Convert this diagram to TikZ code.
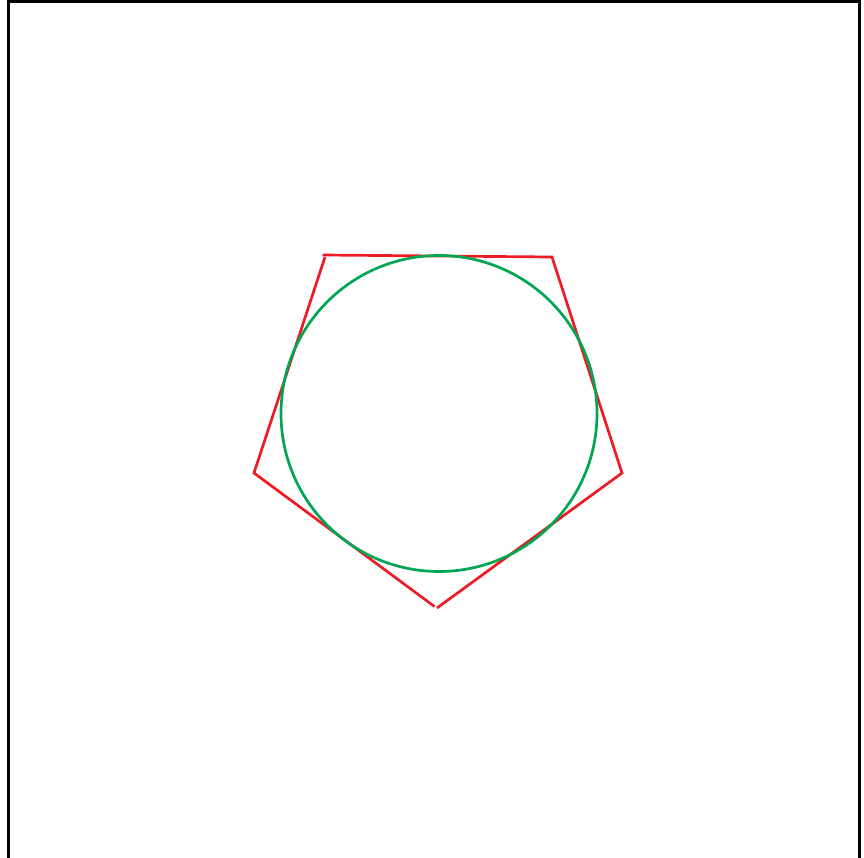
\documentclass[tikz,border=0pt]{standalone}
\definecolor{pred}{RGB}{237,28,36}
\definecolor{cgreen}{RGB}{0,166,81}
\begin{document}
\begin{tikzpicture}[x=1pt,y=-1pt,
  frame/.style={draw=black,line width=3.0pt},
  pent/.style={draw=pred,line width=2.7pt},
  circ/.style={draw=cgreen,line width=2.7pt}]
\useasboundingbox (0,0) rectangle (864,858);
\draw[frame] (8,870) -- (8,2) -- (859,2) -- (859,870);
\coordinate (tl) at (322.5,255);
\coordinate (tla) at (325,257);
\coordinate (tr) at (552,257);
\coordinate (r) at (622,473);
\coordinate (bl) at (434.5,606.5);
\coordinate (br) at (437,608);
\coordinate (l) at (254,473);
\draw[pent] (tl) -- (tr) -- (r) -- (br);
\draw[pent] (bl) -- (l) -- (tla);
\draw[circ] (439,413.5) circle [radius=158];
\end{tikzpicture}
\end{document}
